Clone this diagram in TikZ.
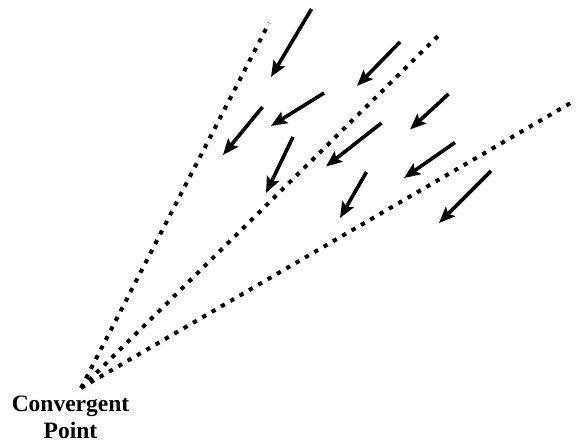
\documentclass[tikz,border=0pt]{standalone}
\usepackage{fontspec}
\setmainfont{Liberation Serif}
\usetikzlibrary{arrows.meta}
\begin{document}
\begin{tikzpicture}[x=1pt,y=-1pt,
  ray/.style={line width=4pt, dash pattern=on 4.3pt off 6.5pt},
  arr/.style={line width=3.6pt, -{Stealth[length=16pt,width=13pt,inset=3pt]}},
  lbl/.style={font=\bfseries\fontsize{23.5}{27}\selectfont, align=center, inner sep=0pt}]
\useasboundingbox (0,0) rectangle (576,443);
% convergent point and ray ends
\coordinate (cp) at (81,388);
\coordinate (r1) at (269,23);
\coordinate (r2) at (440,34);
\coordinate (r3) at (574,101);
\draw[ray] (cp) -- (r1);
\draw[ray] (cp) -- (r2);
\draw[ray] (cp) -- (r3);
% arrows
\coordinate (t1) at (311.5,9);   \coordinate (h1) at (271,77);
\coordinate (t2) at (400,42);    \coordinate (h2) at (357,86);
\coordinate (t3) at (324,93);    \coordinate (h3) at (271,126);
\coordinate (t4) at (262.5,107); \coordinate (h4) at (223,155);
\coordinate (t5) at (293,137);   \coordinate (h5) at (266,193);
\coordinate (t6) at (381.5,123); \coordinate (h6) at (326,166.5);
\coordinate (t7) at (448.5,94);  \coordinate (h7) at (410,129.5);
\coordinate (t8) at (455,142.5); \coordinate (h8) at (404,178);
\coordinate (t9) at (366.5,172); \coordinate (h9) at (340,218);
\coordinate (t10) at (491,171);  \coordinate (h10) at (439,223);
\foreach \i in {1,...,10} {\draw[arr] (t\i) -- (h\i);}
% label
\node[lbl, anchor=north] (label) at (70.5,396) {Convergent\\Point};
\end{tikzpicture}
\end{document}
